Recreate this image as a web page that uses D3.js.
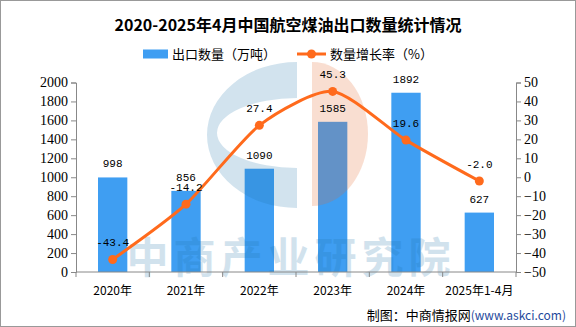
<!DOCTYPE html>
<html>
<head>
<meta charset="utf-8">
<script src="https://cdn.jsdelivr.net/npm/d3@7"></script>
<style>
  body { margin: 0; background: #fff; }
  svg { display: block; }
</style>
</head>
<body>
<div id="chart"></div>
<script>
// data
var years = ["2020年", "2021年", "2022年", "2023年", "2024年", "2025年1-4月"];
var exportQty = [998, 856, 1090, 1585, 1892, 627];
var growthRate = [-43.4, -14.2, 27.4, 45.3, 19.6, -2.0];
var leftTicks = [0, 200, 400, 600, 800, 1000, 1200, 1400, 1600, 1800, 2000];
var rightTicks = [-50, -40, -30, -20, -10, 0, 10, 20, 30, 40, 50];

var W = 576, H = 327;
var margin = {left: 76, right: 60, top: 82.5, bottom: 55};
var cjk = "'Noto Sans CJK SC', 'Noto Sans', sans-serif";
var mono = "'Liberation Mono', 'DejaVu Sans Mono', monospace";
var serif = "'Liberation Serif', 'DejaVu Serif', serif";

var svg = d3.select("#chart").append("svg")
    .attr("width", W)
    .attr("height", H);

svg.append("rect")
  .attr("x", 0.5).attr("y", 0.5)
  .attr("width", W - 1).attr("height", H - 1)
  .attr("fill", "#fff")
  .attr("stroke", "#999");

var x = d3.scaleBand()
    .domain(years)
    .range([margin.left, W - margin.right])
    .paddingInner(0.6)
    .paddingOuter(0.3);
// band boundaries for the ticks
var xOuter = d3.scaleBand().domain(years).range([margin.left, W - margin.right]);

var yL = d3.scaleLinear().domain([0, 2000]).range([H - margin.bottom, margin.top]);
var yR = d3.scaleLinear().domain([-50, 50]).range([H - margin.bottom, margin.top]);

// title
svg.append("text")
  .attr("x", 288).attr("y", 31)
  .attr("text-anchor", "middle")
  .style("font-family", cjk)
  .style("font-size", "16px")
  .style("font-weight", "bold")
  .text("2020-2025年4月中国航空煤油出口数量统计情况");

// legend
var lg = svg.append("g").style("font-family", cjk).style("font-size", "13px");
lg.append("rect").attr("x", 143).attr("y", 49.5).attr("width", 25).attr("height", 9).attr("fill", "#3f9ef2");
lg.append("text").attr("x", 172).attr("y", 59).text("出口数量（万吨）");
lg.append("line").attr("x1", 297).attr("x2", 326).attr("y1", 54).attr("y2", 54)
  .attr("stroke", "#ff6a1c").attr("stroke-width", 3);
lg.append("circle").attr("cx", 311.5).attr("cy", 54).attr("r", 4.5).attr("fill", "#ff6a1c");
lg.append("text").attr("x", 330).attr("y", 59).text("数量增长率（%）");

// bars
svg.append("g").selectAll("rect")
  .data(exportQty)
  .enter().append("rect")
  .attr("x", function(d, i) { return x(years[i]); })
  .attr("y", function(d) { return yL(d); })
  .attr("width", x.bandwidth())
  .attr("height", function(d) { return yL(0) - yL(d); })
  .attr("fill", "#3f9ef2");

// watermark, drawn over the bars with transparency
var wm = svg.append("g").attr("pointer-events", "none");
wm.append("path")
  .attr("d", "M297,62 A90,73 0 0,0 297,208 L297,168 A80,35 0 0,1 297,98 Z")
  .attr("fill", "#1e73aa").attr("opacity", 0.2);
wm.append("path")
  .attr("d", "M312,62 A56,72 0 0,1 312,206 Z")
  .attr("fill", "#e4672d").attr("opacity", 0.22);
wm.append("text")
  .attr("x", 291).attr("y", 273)
  .attr("text-anchor", "middle")
  .style("font-family", cjk)
  .style("font-size", "42px")
  .style("font-weight", "bold")
  .style("letter-spacing", "5px")
  .attr("fill", "#1e73aa").attr("opacity", 0.2)
  .text("中商产业研究院");

// bar labels
svg.append("g").selectAll("text")
  .data(exportQty)
  .enter().append("text")
  .attr("x", function(d, i) { return x(years[i]) + x.bandwidth() / 2; })
  .attr("y", function(d) { return yL(d) - 10; })
  .attr("text-anchor", "middle")
  .style("font-family", mono)
  .style("font-size", "11px")
  .text(function(d) { return d; });

// growth line
var cx = function(i) { return x(years[i]) + x.bandwidth() / 2; };
var line = d3.line()
    .x(function(d, i) { return cx(i); })
    .y(function(d) { return yR(d); })
    .curve(d3.curveCardinal.tension(0.3));

svg.append("path")
  .datum(growthRate)
  .attr("d", line)
  .attr("fill", "none")
  .attr("stroke", "#ff6a1c")
  .attr("stroke-width", 3);

svg.append("g").selectAll("circle")
  .data(growthRate)
  .enter().append("circle")
  .attr("cx", function(d, i) { return cx(i); })
  .attr("cy", function(d) { return yR(d); })
  .attr("r", 4.5)
  .attr("fill", "#ff6a1c");

svg.append("g").selectAll("text")
  .data(growthRate)
  .enter().append("text")
  .attr("x", function(d, i) { return cx(i); })
  .attr("y", function(d) { return yR(d) - 13; })
  .attr("text-anchor", "middle")
  .style("font-family", mono)
  .style("font-size", "11px")
  .text(function(d) { return d.toFixed(1); });

// axes
var axisColor = "#888";
var gL = svg.append("g")
  .attr("transform", "translate(" + margin.left + ",0)")
  .call(d3.axisLeft(yL).tickValues(leftTicks).tickFormat(d3.format("d")).tickSize(5).tickPadding(3));
var gR = svg.append("g")
  .attr("transform", "translate(" + (W - margin.right) + ",0)")
  .call(d3.axisRight(yR).tickValues(rightTicks).tickFormat(d3.format("d")).tickSize(5).tickPadding(3));
[gL, gR].forEach(function(g) {
  g.selectAll("path, line").attr("stroke", axisColor);
  g.selectAll("text")
    .style("font-family", serif)
    .style("font-size", "14px")
    .attr("fill", "#000");
});

var gB = svg.append("g").attr("transform", "translate(0," + yL(0) + ")");
gB.append("line")
  .attr("x1", margin.left).attr("x2", W - margin.right)
  .attr("stroke", axisColor);
var bounds = years.map(function(d) { return xOuter(d); }).concat([W - margin.right]);
gB.selectAll("line.tick")
  .data(bounds)
  .enter().append("line")
  .attr("class", "tick")
  .attr("x1", function(d) { return d; }).attr("x2", function(d) { return d; })
  .attr("y1", 0).attr("y2", 5)
  .attr("stroke", axisColor);
gB.selectAll("text")
  .data(years)
  .enter().append("text")
  .attr("x", function(d) { return xOuter(d) + xOuter.bandwidth() / 2; })
  .attr("y", 23)
  .attr("text-anchor", "middle")
  .style("font-family", cjk)
  .style("font-size", "12px")
  .text(function(d) { return d; });

// source note
var src = svg.append("text")
  .attr("x", 566).attr("y", 320)
  .attr("text-anchor", "end")
  .style("font-family", cjk)
  .style("font-size", "13px");
src.append("tspan").text("制图：中商情报网");
src.append("tspan").attr("fill", "#1f4a9c").style("font-size", "12px").text("(www.askci.com)");
</script>
</body>
</html>
